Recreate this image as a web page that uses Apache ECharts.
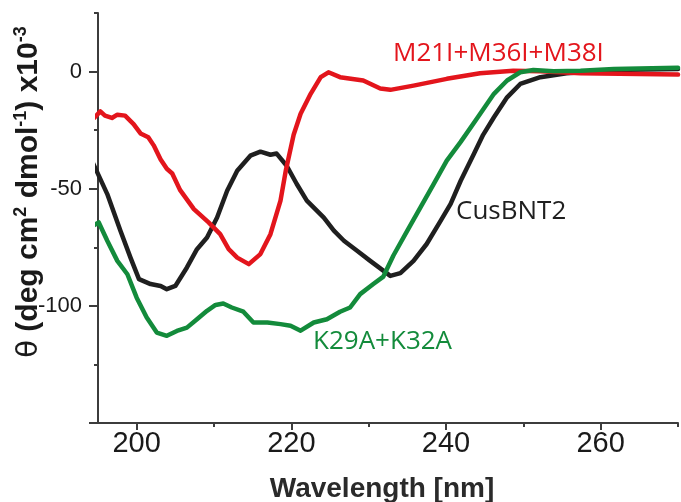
<!DOCTYPE html>
<html>
<head>
<meta charset="utf-8">
<script src="https://cdn.jsdelivr.net/npm/echarts@6/dist/echarts.min.js"></script>
<style>
  html, body { margin: 0; padding: 0; background: #fff; }
  #chart { width: 681px; height: 502px; }
</style>
</head>
<body>
<div id="chart"></div>
<script>
// wavelength [nm] and ellipticity (x10^-3)
var cusWl = [194.4, 196.2, 197.9, 199.2, 200.3, 201.8, 203.1, 203.9, 205, 206.5, 207.8, 209.1, 210.4, 211.7, 213, 214.7, 216, 217.3, 218.1, 219.4, 220.7, 222, 224.2, 225.5, 226.8, 228.5, 230.2, 231.5, 232.8, 234.1, 235.8, 237.5, 239.3, 240.6, 241.9, 243.6, 244.8, 246.2, 247.9, 249.6, 252.2, 255.6, 261.7, 270];
var cusVal = [-39.4, -52.3, -67.9, -79.4, -88.6, -90.7, -91.5, -92.9, -91.5, -83.6, -75.8, -70.8, -62.3, -50.9, -42.3, -35.9, -34.2, -35.5, -35, -40.2, -48, -55.1, -62.3, -67.9, -72.2, -76.5, -80.8, -84, -87.2, -86, -80.8, -73.6, -63.7, -56.5, -46.6, -35.2, -27, -19.5, -11, -5.3, -2.4, -0.7, 0.7, 1.1];

var mWl = [194.3, 195.3, 195.9, 196.8, 197.5, 198.5, 199.6, 200.5, 201.5, 202.2, 203.1, 203.9, 204.6, 205.6, 207.4, 209.3, 210.8, 211.9, 213, 214.5, 216, 217.3, 218.6, 219.3, 220.3, 221.2, 222.5, 223.8, 224.8, 226.3, 229.3, 231.5, 232.8, 235.8, 240.1, 244.4, 248.7, 252.2, 257.4, 270];
var mVal = [-20.5, -17, -18.8, -19.8, -18.4, -18.8, -22.4, -26.4, -28, -31.5, -37.5, -41.5, -43.5, -50.5, -58.7, -64.4, -69.4, -75.8, -79.4, -82.2, -77.9, -69.4, -55.1, -42, -27, -18, -9.5, -2.4, -0.3, -2.4, -3.8, -7.2, -7.8, -6, -3.1, -0.7, 0.4, 0.1, -0.7, -1.3];

var kWl = [194.4, 195.1, 196.2, 197.5, 198.8, 200, 201.3, 202.6, 203.9, 205.2, 206.5, 207.8, 209.1, 210.2, 211.2, 212.3, 213.8, 215.1, 216.9, 218.6, 219.9, 221.2, 222.9, 224.6, 226.3, 227.6, 228.9, 230.6, 231.9, 233.2, 235, 236.7, 238.4, 240.1, 241.9, 244, 246.2, 247.9, 249.6, 251.3, 253.9, 257.4, 261.7, 270];
var kVal = [-65.8, -64.4, -72.2, -80.8, -86.5, -96.5, -105, -111.4, -112.8, -110.7, -109.3, -105.7, -102.1, -99.6, -99, -100.7, -102.5, -107.1, -107.1, -107.8, -108.5, -110.6, -107.1, -105.7, -102.5, -100.7, -95, -90.7, -87.5, -78.5, -67.9, -58, -48, -38, -30, -20, -9.5, -3.8, -0.3, 0.7, 0.1, 0.4, 1.1, 1.6];

var xMajor = [200, 220, 240, 260];
var xMinor = [210, 230, 250, 270];
var yMajor = [-150, -100, -50, 0];
var yLabels = [-100, -50, 0];

var RED = '#e3151c', GREEN = '#138b3b', BLACK = '#1f1f1f', AXIS = '#3c3c3c';

function zip(xs, ys){
    var out = [];
    for(var i = 0; i < xs.length; i++){
        out.push([xs[i], ys[i]]);
    }
    return out;
}

function curve(name, xs, ys, color, z){
    return {
        name: name,
        type: 'line',
        data: zip(xs, ys),
        showSymbol: false,
        clip: false,
        z: z,
        lineStyle: { color: color, width: 4.5, join: 'round', cap: 'round' },
        itemStyle: { color: color }
    };
}

function curveLabel(text, x, y, color){
    return {
        type: 'text',
        x: x,
        y: y,
        style: {
            text: text,
            fill: color,
            fontSize: 26,
            fontFamily: 'Open Sans',
            align: 'left', verticalAlign: 'middle',
            textAlign: 'left', textVerticalAlign: 'middle'
        }
    };
}

var chart = echarts.init(document.getElementById('chart'), null, { renderer: 'canvas' });

var option = {
    animation: false,
    backgroundColor: '#fff',
    grid: { left: 98, right: 3, top: 13, bottom: 79, outerBoundsMode: 'none' },
    xAxis: [
        {
            type: 'value', min: 195, max: 270,
            name: 'Wavelength [nm]',
            nameLocation: 'middle',
            nameGap: 52,
            nameTextStyle: { fontFamily: 'Liberation Sans', fontWeight: 'bold', fontSize: 28, color: '#2a2a2a', padding: [0, 12, 0, 0] },
            axisLine: { show: true, onZero: false, lineStyle: { color: AXIS, width: 2 } },
            axisTick: { show: true, customValues: xMajor, length: 7, lineStyle: { color: AXIS, width: 2 } },
            axisLabel: { customValues: xMajor, fontFamily: 'Liberation Sans', fontSize: 29, color: '#1a1a1a', margin: 6 },
            splitLine: { show: false }
        },
        {
            type: 'value', min: 195, max: 270, position: 'bottom',
            axisLine: { show: false, onZero: false },
            axisTick: { show: true, customValues: xMinor, length: 4, lineStyle: { color: AXIS, width: 2 } },
            axisLabel: { show: false },
            splitLine: { show: false }
        }
    ],
    yAxis: [
        {
            type: 'value', min: -150, max: 25, interval: 25, position: 'left',
            axisLine: { show: true, onZero: false, lineStyle: { color: AXIS, width: 2 } },
            axisTick: { show: true, length: 4, lineStyle: { color: AXIS, width: 2 } },
            axisLabel: { show: false },
            splitLine: { show: false }
        },
        {
            type: 'value', min: -150, max: 25, position: 'left',
            axisLine: { show: false, onZero: false },
            axisTick: { show: true, customValues: yMajor, length: 9, lineStyle: { color: AXIS, width: 2 } },
            axisLabel: { customValues: yLabels, fontFamily: 'Liberation Sans', fontSize: 22, color: '#1a1a1a', margin: 16 },
            splitLine: { show: false }
        }
    ],
    graphic: [
        {
            type: 'text',
            x: 29,
            y: 192,
            rotation: Math.PI / 2,
            style: {
                text: '{t|θ} (deg cm{s|2} dmol{s|-1}) x10{s|-3}',
                fill: '#1a1a1a',
                fontFamily: 'Liberation Sans',
                fontWeight: 'bold',
                fontSize: 30,
                align: 'center', verticalAlign: 'middle',
                textAlign: 'center', textVerticalAlign: 'middle',
                rich: {
                    t: { fontFamily: 'DejaVu Sans', fontWeight: 'normal', fontSize: 29, fill: '#1a1a1a' },
                    s: { fontFamily: 'Liberation Sans', fontWeight: 'bold', fontSize: 18, fill: '#1a1a1a', padding: [0, 0, 15, 0] }
                }
            }
        },
        curveLabel('M21I+M36I+M38I', 393, 54, RED),
        curveLabel('CusBNT2', 456, 212, BLACK),
        curveLabel('K29A+K32A', 313, 342, GREEN)
    ],
    series: [
        curve('CusBNT2', cusWl, cusVal, BLACK, 2),
        curve('M21I+M36I+M38I', mWl, mVal, RED, 3),
        curve('K29A+K32A', kWl, kVal, GREEN, 4)
    ]
};

chart.setOption(option);
</script>
</body>
</html>
